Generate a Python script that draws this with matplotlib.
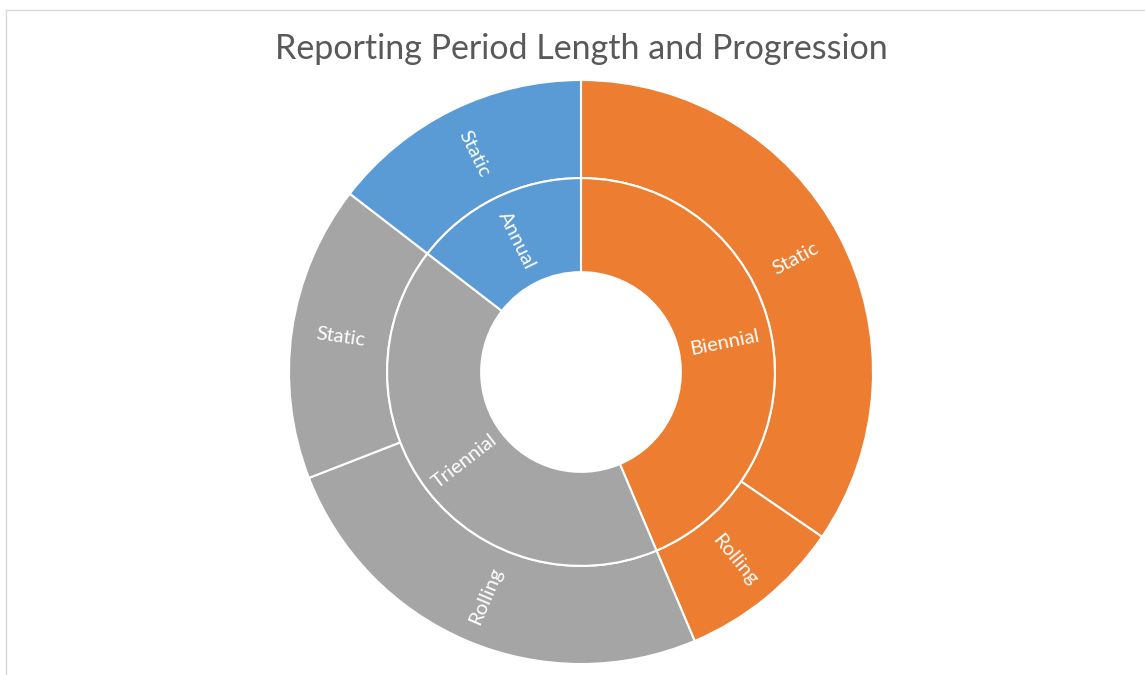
import numpy as np
import matplotlib.pyplot as plt
from matplotlib.lines import Line2D

# inner ring (period length), clockwise from 12 o'clock
lengths = ['Biennial', 'Triennial', 'Annual']
length_colors = ['#ED7D31', '#A5A5A5', '#5B9BD5']

# outer ring (progression) per length
progression = ['Static', 'Rolling', 'Rolling', 'Static', 'Static']
progression_parent = ['Biennial', 'Biennial', 'Triennial', 'Triennial', 'Annual']
counts = [19, 5, 14, 9, 8]

length_totals = [sum(c for c, p in zip(counts, progression_parent) if p == l) for l in lengths]
outer_colors = [length_colors[lengths.index(p)] for p in progression_parent]

W, H = 1145, 675
fig = plt.figure(figsize=(W / 100, H / 100), dpi=100)
fig.patch.set_facecolor('white')

cx, cy, R = 581, 372, 292
ax = fig.add_axes([(cx - R) / W, (H - cy - R) / H, 2 * R / W, 2 * R / H])

r_out, r_mid, r_hole = 1.0, 0.664, 0.342
wp = dict(edgecolor='white', linewidth=1.5)

ax.pie(counts, radius=r_out, colors=outer_colors, startangle=90, counterclock=False,
       wedgeprops=dict(width=r_out - r_mid, **wp))
ax.pie(length_totals, radius=r_mid, colors=length_colors, startangle=90, counterclock=False,
       wedgeprops=dict(width=r_mid - r_hole, **wp))

ax.set_xlim(-1, 1)
ax.set_ylim(-1, 1)
ax.set_aspect('equal')
ax.axis('off')


def put_labels(values, labels, r):
    total = sum(values)
    start = 0.0
    for v, lab in zip(values, labels):
        mid = (start + v / 2) / total * 360
        start += v
        ang = 90 - mid  # math angle, degrees
        x = r * np.cos(np.radians(ang))
        y = r * np.sin(np.radians(ang))
        rot = (ang + 180) % 360 - 180
        if rot > 90:
            rot -= 180
        elif rot < -90:
            rot += 180
        ax.text(x, y, lab, rotation=rot, rotation_mode='anchor', ha='center', va='center',
                color='white', fontsize=14.5, family='Lato')


put_labels(counts, progression, (r_out + r_mid) / 2)
put_labels(length_totals, lengths, (r_mid + r_hole) / 2)

fig.text(cx / W, 1 - 49 / H, 'Reporting Period Length and Progression', ha='center', va='center',
         fontsize=24.5, color='#595959', family='Lato')

# chart frame (cropped at right and bottom)
fig.add_artist(Line2D([6 / W, 1], [1 - 10 / H, 1 - 10 / H], transform=fig.transFigure,
                      color='#D9D9D9', linewidth=1))
fig.add_artist(Line2D([6 / W, 6 / W], [0, 1 - 10 / H], transform=fig.transFigure,
                      color='#D9D9D9', linewidth=1))

fig.savefig('out.png', dpi=100, facecolor='white')
